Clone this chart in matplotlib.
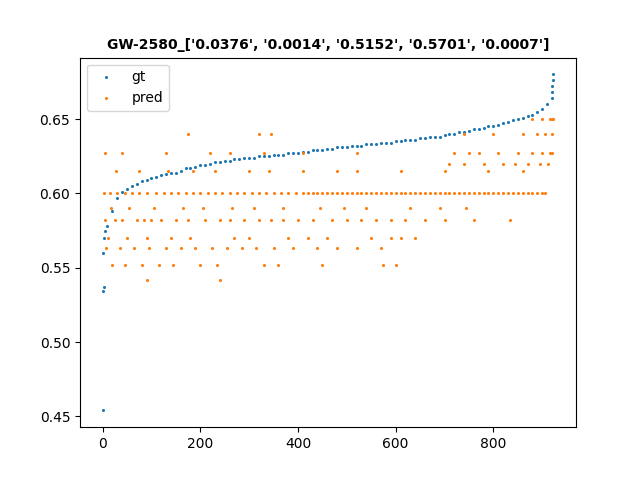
import matplotlib
matplotlib.use("Agg")
import matplotlib.pyplot as plt

# ground truth, sorted, read at every 10th index
gt_x = list(range(0, 930, 10))
gt_y = [0.560, 0.578, 0.588, 0.597, 0.601, 0.603, 0.605, 0.606, 0.608, 0.609,
        0.610, 0.611, 0.612, 0.613, 0.614, 0.614, 0.615, 0.617, 0.617, 0.618,
        0.619, 0.619, 0.620, 0.621, 0.621, 0.622, 0.622, 0.623, 0.623, 0.624,
        0.624, 0.624, 0.625, 0.625, 0.625, 0.626, 0.626, 0.626, 0.627, 0.627,
        0.627, 0.628, 0.628, 0.629, 0.629, 0.629, 0.630, 0.630, 0.631, 0.631,
        0.631, 0.632, 0.632, 0.632, 0.633, 0.633, 0.633, 0.634, 0.634, 0.634,
        0.635, 0.635, 0.636, 0.636, 0.636, 0.637, 0.637, 0.638, 0.638, 0.638,
        0.639, 0.640, 0.640, 0.641, 0.641, 0.642, 0.643, 0.643, 0.644, 0.645,
        0.645, 0.646, 0.647, 0.648, 0.649, 0.650, 0.651, 0.652, 0.653, 0.655,
        0.657, 0.660, 0.664]
gt_extra_x = [0, 1, 2, 3, 5, 920, 921, 922, 923]
gt_extra_y = [0.454, 0.534, 0.537, 0.57, 0.575, 0.668, 0.672, 0.676, 0.680]

# predictions, grouped by the quantised levels seen in the picture
pred_600_x = [3, 15, 30, 45, 60, 75, 90, 110, 125, 140, 155, 170, 185, 200, 215,
              230, 245, 260, 275, 290, 305, 320, 335, 350, 365, 380, 395, 410,
              420, 430, 440, 450, 460, 470, 480, 490, 500, 510, 520, 530, 540,
              550, 560, 570, 580, 590, 600, 610, 620, 630, 640, 650, 660, 670,
              680, 690, 700, 710, 720, 730, 740, 750, 760, 770, 780, 790, 800,
              810, 820, 830, 840, 850, 860, 870, 880, 890, 900, 905]
pred_582_x = [5, 25, 40, 70, 85, 100, 120, 150, 175, 210, 240, 260, 290, 320,
              345, 370, 400, 430, 470, 500, 530, 560, 590, 620, 660, 700, 760, 835]
pred_563_x = [8, 35, 65, 95, 130, 160, 190, 225, 255, 285, 315, 350, 390, 440,
              480, 520, 570]
pred_552_x = [20, 45, 80, 115, 145, 200, 235, 330, 360, 450, 575, 600]
pred_570_x = [12, 50, 90, 140, 180, 270, 300, 380, 420, 460, 550, 590, 610, 640]
pred_590_x = [18, 55, 105, 165, 205, 265, 310, 370, 445, 495, 540, 630, 690, 745]
pred_615_x = [28, 75, 135, 185, 230, 300, 340, 410, 480, 520, 610, 700, 790, 860]
pred_627_x = [5, 40, 130, 220, 260, 330, 410, 520, 720, 750, 770, 810, 850, 880,
              900, 915, 920]
pred_640_x = [175, 320, 345, 740, 800, 860, 890, 905, 920]
pred_650_x = [880, 900, 915, 920, 922]
pred_620_x = [710, 740, 780, 820, 845, 870, 895, 912]
pred_542_x = [90, 240]

pred_groups = [(0.600, pred_600_x), (0.582, pred_582_x), (0.563, pred_563_x),
               (0.552, pred_552_x), (0.570, pred_570_x), (0.590, pred_590_x),
               (0.615, pred_615_x), (0.627, pred_627_x), (0.640, pred_640_x),
               (0.650, pred_650_x), (0.620, pred_620_x), (0.542, pred_542_x)]

pred_x = []
pred_y = []
for level, xs in pred_groups:
    pred_x += xs
    pred_y += [level] * len(xs)

fig = plt.figure(figsize=(6.4, 4.8), dpi=100)
plt.scatter(gt_x + gt_extra_x, gt_y + gt_extra_y, s=1.5, label="gt")
plt.scatter(pred_x, pred_y, s=1.5, label="pred")
plt.title("GW-2580_['0.0376', '0.0014', '0.5152', '0.5701', '0.0007']",
          fontsize=10, fontweight="bold")
plt.legend(loc="upper left")
plt.savefig("out.png", dpi=100)
